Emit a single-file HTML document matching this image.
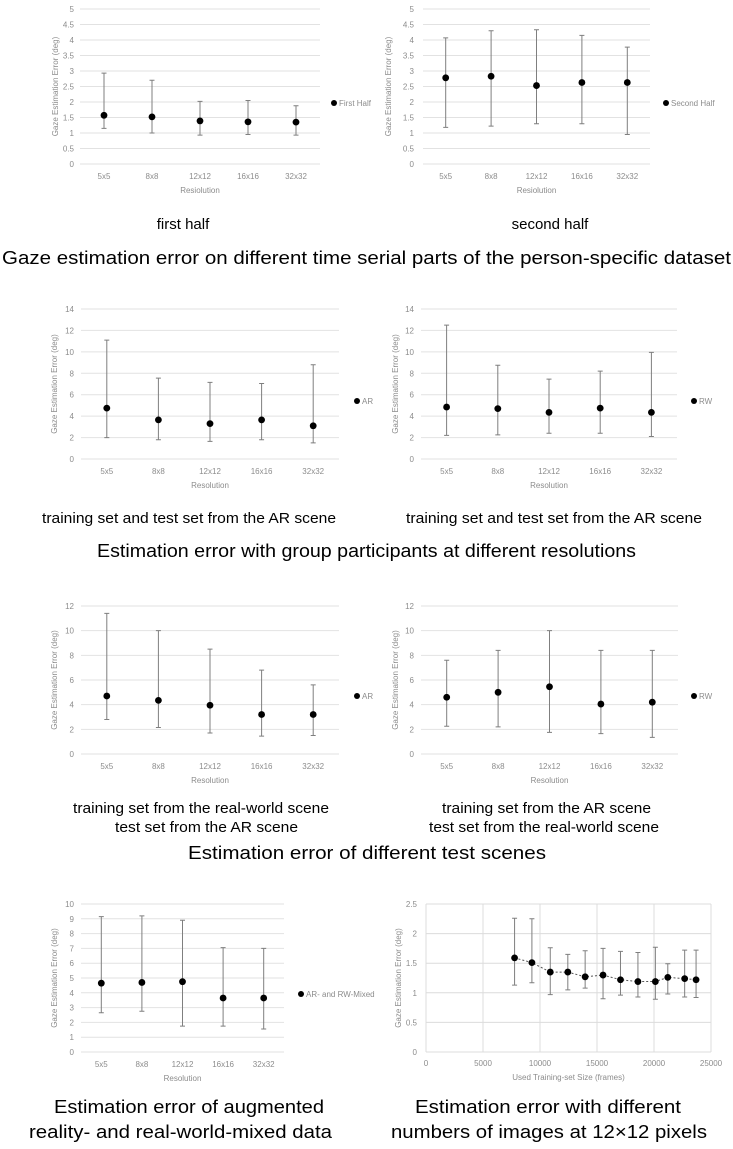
<!DOCTYPE html>
<html><head><meta charset="utf-8"><title>Gaze estimation error figures</title>
<style>
html,body{margin:0;padding:0;background:#fff;}
svg{display:block;font-family:"Liberation Sans",sans-serif;}
.ax{fill:#8c8c8c;font-size:8px;}
.cap{fill:#000;font-size:15px;}
.ttl{fill:#000;font-size:18px;}
</style></head>
<body>
<svg id="fig" width="733" height="1149" viewBox="0 0 733 1149" xmlns="http://www.w3.org/2000/svg">
<rect width="733" height="1149" fill="#fff"/>
<text class="cap" x="183" y="229" text-anchor="middle">first half</text>
<text class="cap" x="550" y="229" text-anchor="middle">second half</text>
<text class="ttl" x="2" y="264" textLength="729" lengthAdjust="spacingAndGlyphs">Gaze estimation error on different time serial parts of the person-specific dataset</text>
<text class="cap" x="42" y="523" textLength="294" lengthAdjust="spacingAndGlyphs">training set and test set from the AR scene</text>
<text class="cap" x="406" y="523" textLength="296" lengthAdjust="spacingAndGlyphs">training set and test set from the AR scene</text>
<text class="ttl" x="97" y="557" textLength="539" lengthAdjust="spacingAndGlyphs">Estimation error with group participants at different resolutions</text>
<text class="cap" x="73" y="813" textLength="256" lengthAdjust="spacingAndGlyphs">training set from the real-world scene</text>
<text class="cap" x="115" y="832" textLength="183" lengthAdjust="spacingAndGlyphs">test set from the AR scene</text>
<text class="cap" x="442" y="813" textLength="209" lengthAdjust="spacingAndGlyphs">training set from the AR scene</text>
<text class="cap" x="429" y="832" textLength="230" lengthAdjust="spacingAndGlyphs">test set from the real-world scene</text>
<text class="ttl" x="188" y="859" textLength="358" lengthAdjust="spacingAndGlyphs">Estimation error of different test scenes</text>
<text class="ttl" x="54" y="1113" textLength="270" lengthAdjust="spacingAndGlyphs">Estimation error of augmented</text>
<text class="ttl" x="29" y="1138" textLength="303" lengthAdjust="spacingAndGlyphs">reality- and real-world-mixed data</text>
<text class="ttl" x="415" y="1113" textLength="266" lengthAdjust="spacingAndGlyphs">Estimation error with different</text>
<text class="ttl" x="391" y="1138" textLength="316" lengthAdjust="spacingAndGlyphs">numbers of images at 12×12 pixels</text>
</svg>
<script>
const categories = ['5x5','8x8','12x12','16x16','32x32'];

const firstHalfMean = [1.57,1.52,1.39,1.36,1.35];
const firstHalfLow  = [1.15,1.0,0.93,0.95,0.93];
const firstHalfHigh = [2.93,2.7,2.02,2.05,1.88];
const secondHalfMean = [2.78,2.83,2.53,2.63,2.63];
const secondHalfLow  = [1.18,1.22,1.3,1.3,0.95];
const secondHalfHigh = [4.07,4.3,4.33,4.15,3.77];
const halfTicks = ['0','0.5','1','1.5','2','2.5','3','3.5','4','4.5','5'];

const arGroupMean = [4.75,3.65,3.3,3.65,3.1];
const arGroupLow  = [2.0,1.8,1.65,1.8,1.5];
const arGroupHigh = [11.1,7.55,7.15,7.05,8.8];
const rwGroupMean = [4.85,4.7,4.35,4.75,4.35];
const rwGroupLow  = [2.2,2.25,2.4,2.4,2.1];
const rwGroupHigh = [12.5,8.75,7.45,8.2,9.95];
const groupTicks = ['0','2','4','6','8','10','12','14'];

const arTestMean = [4.7,4.35,3.95,3.2,3.2];
const arTestLow  = [2.8,2.15,1.7,1.45,1.5];
const arTestHigh = [11.4,10.0,8.5,6.8,5.6];
const rwTestMean = [4.6,5.0,5.45,4.05,4.2];
const rwTestLow  = [2.25,2.2,1.75,1.65,1.35];
const rwTestHigh = [7.6,8.4,10.0,8.4,8.4];
const sceneTicks = ['0','2','4','6','8','10','12'];

const mixedMean = [4.65,4.7,4.75,3.65,3.65];
const mixedLow  = [2.65,2.75,1.75,1.75,1.55];
const mixedHigh = [9.15,9.2,8.9,7.05,7.0];
const mixedTicks = ['0','1','2','3','4','5','6','7','8','9','10'];

const sizeFrames = [7770,9290,10900,12440,13960,15530,17060,18590,20120,21210,22690,23690];
const sizeMean = [1.59,1.51,1.35,1.35,1.27,1.30,1.22,1.19,1.19,1.26,1.24,1.22];
const sizeLow  = [1.13,1.17,0.97,1.05,1.08,0.90,0.96,0.93,0.89,0.98,0.93,0.92];
const sizeHigh = [2.26,2.25,1.76,1.65,1.71,1.75,1.70,1.68,1.77,1.49,1.72,1.72];
const sizeYTicks = ['0','0.5','1','1.5','2','2.5'];
const sizeXTicks = ['0','5000','10000','15000','20000','25000'];

const NS='http://www.w3.org/2000/svg';
const svg=document.getElementById('fig');
function mk(tag,attrs,parent){const e=document.createElementNS(NS,tag);for(const k in attrs)e.setAttribute(k,attrs[k]);(parent||svg).appendChild(e);return e;}

function catChart(name,L,means,lows,highs,ticks,legendText,xTitle){
  const g=mk('g',{});
  
  
  const tmax=parseFloat(ticks[ticks.length-1]);
  const y=v=>L.y0+(L.yTop-L.y0)*v/tmax;
  const band=(L.x1-L.x0)/categories.length;
  const x=i=>L.x0+band*(i+0.5);
  ticks.forEach(t=>{
    const v=parseFloat(t);
    const ln=mk('line',{x1:L.x0,x2:L.x1,y1:y(v),y2:y(v),stroke:'#e2e2e2','stroke-width':1},g);
    
    
    const tx=mk('text',{x:L.tickX,y:y(v)+3,'text-anchor':'end',class:'ax'},g);
    tx.textContent=t;
    
    
  });
  categories.forEach((c,i)=>{
    const tx=mk('text',{x:x(i),y:L.y0+15,'text-anchor':'middle',class:'ax'},g);
    tx.textContent=c;
    
    
  });
  const xt=mk('text',{x:(L.x0+L.x1)/2,y:L.y0+29,'text-anchor':'middle',class:'ax','font-size':'9'},g);
  xt.textContent=xTitle;
  
  
  const yc=(L.y0+L.yTop)/2;
  const yt=mk('text',{x:L.titleX,y:yc,'text-anchor':'middle',class:'ax',transform:`rotate(-90 ${L.titleX} ${yc})`},g);
  yt.textContent='Gaze Estimation Error (deg)';
  
  
  means.forEach((m,i)=>{
    const eb=mk('path',{d:`M${x(i)},${y(highs[i])}V${y(lows[i])}M${x(i)-2.5},${y(highs[i])}h5M${x(i)-2.5},${y(lows[i])}h5`,stroke:'#7f7f7f','stroke-width':1,fill:'none'},g);
    
    
    const pt=mk('circle',{cx:x(i),cy:y(m),r:3.4,fill:'#000'},g);
    
    
  });
  const ld=mk('circle',{cx:L.legX,cy:L.legY,r:3,fill:'#000'},g);
  
  
  const lt=mk('text',{x:L.legX+5,y:L.legY+3,class:'ax'},g);
  lt.textContent=legendText;
  
  
}

catChart('chart-first-half',{x0:80,x1:320,y0:164,yTop:9,tickX:74,titleX:58,legX:334,legY:103},firstHalfMean,firstHalfLow,firstHalfHigh,halfTicks,'First Half','Resiolution');
catChart('chart-second-half',{x0:423,x1:650,y0:164,yTop:9,tickX:414,titleX:391,legX:666,legY:103},secondHalfMean,secondHalfLow,secondHalfHigh,halfTicks,'Second Half','Resiolution');
catChart('chart-ar-group',{x0:81,x1:339,y0:459,yTop:309,tickX:74,titleX:57,legX:357,legY:401},arGroupMean,arGroupLow,arGroupHigh,groupTicks,'AR','Resolution');
catChart('chart-rw-group',{x0:421,x1:677,y0:459,yTop:309,tickX:414,titleX:398,legX:694,legY:401},rwGroupMean,rwGroupLow,rwGroupHigh,groupTicks,'RW','Resolution');
catChart('chart-ar-test',{x0:81,x1:339,y0:754,yTop:606,tickX:74,titleX:57,legX:357,legY:696},arTestMean,arTestLow,arTestHigh,sceneTicks,'AR','Resolution');
catChart('chart-rw-test',{x0:421,x1:678,y0:754,yTop:606,tickX:414,titleX:398,legX:694,legY:696},rwTestMean,rwTestLow,rwTestHigh,sceneTicks,'RW','Resolution');
catChart('chart-mixed',{x0:81,x1:284,y0:1052,yTop:904,tickX:74,titleX:57,legX:301,legY:994},mixedMean,mixedLow,mixedHigh,mixedTicks,'AR- and RW-Mixed','Resolution');

(function(){
  const L={x0:426,x1:711,y0:1052,yTop:904};
  const g=mk('g',{});
  
  
  const ymax=parseFloat(sizeYTicks[sizeYTicks.length-1]);
  const xmax=parseFloat(sizeXTicks[sizeXTicks.length-1]);
  const y=v=>L.y0+(L.yTop-L.y0)*v/ymax;
  const x=v=>L.x0+(L.x1-L.x0)*v/xmax;
  sizeYTicks.forEach(t=>{
    const v=parseFloat(t);
    const ln=mk('line',{x1:L.x0,x2:L.x1,y1:y(v),y2:y(v),stroke:'#dcdcdc','stroke-width':1},g);
    
    
    const tx=mk('text',{x:L.x0-9,y:y(v)+3,'text-anchor':'end',class:'ax'},g);
    tx.textContent=t;
    
    
  });
  sizeXTicks.forEach(t=>{
    const v=parseFloat(t);
    const ln=mk('line',{x1:x(v),x2:x(v),y1:L.yTop,y2:L.y0,stroke:'#dcdcdc','stroke-width':1},g);
    
    
    const tx=mk('text',{x:x(v),y:L.y0+14,'text-anchor':'middle',class:'ax'},g);
    tx.textContent=t;
    
    
  });
  const xt=mk('text',{x:(L.x0+L.x1)/2,y:L.y0+28,'text-anchor':'middle',class:'ax','font-size':'9'},g);
  xt.textContent='Used Training-set Size (frames)';
  
  
  const yc=(L.y0+L.yTop)/2;
  const yt=mk('text',{x:401,y:yc,'text-anchor':'middle',class:'ax',transform:`rotate(-90 401 ${yc})`},g);
  yt.textContent='Gaze Estimation Error (deg)';
  
  
  let d='';
  sizeFrames.forEach((f,i)=>{d+=(i?'L':'M')+x(f)+','+y(sizeMean[i]);});
  const line=mk('path',{d:d,stroke:'#555',fill:'none','stroke-width':1,'stroke-dasharray':'2,2'},g);
  
  
  sizeFrames.forEach((f,i)=>{
    const X=x(f);
    const eb=mk('path',{d:`M${X},${y(sizeHigh[i])}V${y(sizeLow[i])}M${X-2.5},${y(sizeHigh[i])}h5M${X-2.5},${y(sizeLow[i])}h5`,stroke:'#7f7f7f','stroke-width':1,fill:'none'},g);
    
    
    const pt=mk('circle',{cx:X,cy:y(sizeMean[i]),r:3.4,fill:'#000'},g);
    
    
  });
})();
</script>
</body></html>
